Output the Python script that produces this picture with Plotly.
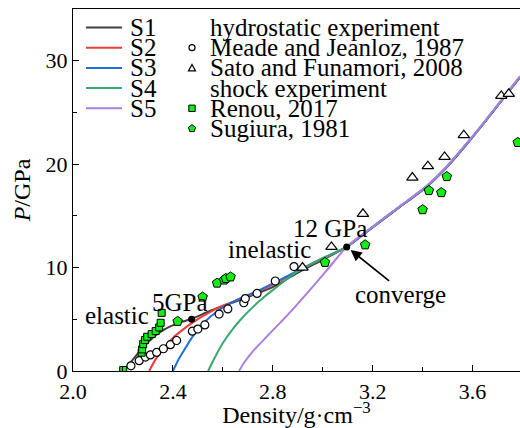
import plotly.graph_objects as go

# ---- equation-of-state curves (density g/cm^3, pressure GPa) ----
s1_rho = [2.205, 2.23, 2.255, 2.281, 2.321, 2.361, 2.418, 2.475, 2.548, 2.615, 2.688, 2.75, 2.815,
          2.908, 3.0, 3.096, 3.2, 3.308, 3.415, 3.5, 3.575, 3.643, 3.79]
s1_p = [0.0, 0.8, 1.55, 2.3, 3.25, 3.95, 4.6, 5.05, 5.8, 6.4, 7.05, 7.6, 8.3,
        9.6, 10.75, 12.0, 13.9, 15.85, 17.8, 19.8, 21.9, 23.9, 28.4]

s2_rho = [2.305, 2.33, 2.36, 2.40, 2.44, 2.48, 2.52, 2.588, 2.655, 2.735, 2.815, 2.908, 3.0, 3.096,
          3.2, 3.308, 3.415, 3.5, 3.575, 3.643, 3.79]
s2_p = [0.0, 1.1, 2.1, 3.2, 4.0, 4.7, 5.3, 6.2, 6.85, 7.6, 8.55, 9.75, 10.85, 12.0,
        13.9, 15.85, 17.8, 19.8, 21.9, 23.9, 28.4]

s3_rho = [2.40, 2.42, 2.441, 2.481, 2.521, 2.588, 2.655, 2.735, 2.815, 2.908, 3.0, 3.096,
          3.2, 3.308, 3.415, 3.5, 3.575, 3.643, 3.79]
s3_p = [0.0, 1.0, 1.86, 3.4, 4.6, 5.95, 6.85, 7.7, 8.65, 9.8, 10.9, 12.0,
        13.9, 15.85, 17.8, 19.8, 21.9, 23.9, 28.4]

s4_rho = [2.541, 2.568, 2.60, 2.641, 2.68, 2.721, 2.77, 2.815, 2.86, 2.908, 3.0, 3.096,
          3.2, 3.308, 3.415, 3.5, 3.575, 3.643, 3.79]
s4_p = [0.0, 1.3, 2.7, 4.1, 5.2, 6.2, 7.25, 8.1, 8.95, 9.75, 10.9, 12.0,
        13.95, 15.9, 17.85, 19.85, 21.95, 23.95, 28.45]

s5_rho = [2.665, 2.685, 2.72, 2.775, 2.855, 2.935, 3.015, 3.096,
          3.2, 3.308, 3.415, 3.5, 3.575, 3.643, 3.79]
s5_p = [0.0, 0.8, 1.9, 3.3, 5.3, 7.45, 9.7, 12.0,
        13.95, 15.9, 17.85, 19.85, 21.95, 23.95, 28.5]

# ---- hydrostatic experiments ----
meade_rho = [2.232, 2.265, 2.29, 2.31, 2.335, 2.362, 2.39, 2.415, 2.478, 2.50, 2.528,
             2.585, 2.62, 2.684, 2.69, 2.737, 2.81, 2.885]
meade_p = [0.5, 1.0, 1.35, 1.55, 1.8, 2.15, 2.55, 2.95, 3.85, 4.05, 4.45,
           5.5, 6.0, 6.6, 7.0, 7.5, 8.7, 10.1]

sato_rho = [2.919, 3.035, 3.161, 3.359, 3.421, 3.488, 3.565, 3.715, 3.745]
sato_p = [10.0, 12.0, 15.2, 18.7, 19.8, 20.7, 22.8, 26.6, 26.8]

# ---- shock experiments ----
renou_rho = [2.201, 2.275, 2.277, 2.281, 2.288, 2.297, 2.315, 2.331, 2.345, 2.351, 2.355]
renou_p = [0.1, 1.77, 2.09, 2.6, 2.99, 3.31, 3.57, 3.86, 4.21, 4.66, 5.62]

sugiura_rho = [2.419, 2.519, 2.577, 2.605, 2.612, 2.631, 3.009, 3.17, 3.40, 3.425, 3.475, 3.497, 3.781]
sugiura_p = [4.8, 7.15, 8.5, 8.8, 8.95, 9.1, 10.5, 12.2, 15.6, 17.45, 17.25, 18.8, 22.1]

# marked transition points: 5 GPa (elastic limit) and 12 GPa (convergence)
key_rho = [2.475, 3.096]
key_p = [5.0, 12.0]

series = [
    ("S1", s1_rho, s1_p, "#3f3f3f"),
    ("S2", s2_rho, s2_p, "#ee3a3a"),
    ("S3", s3_rho, s3_p, "#1f6fdc"),
    ("S4", s4_rho, s4_p, "#3aa86c"),
    ("S5", s5_rho, s5_p, "#a97ee0"),
]

GREEN = "#11ee11"
FONT = "Liberation Serif"

fig = go.Figure()

for name, xs, ys, col in series:
    fig.add_trace(go.Scatter(x=xs, y=ys, mode="lines", name=name,
                             line=dict(color=col, width=2, shape="spline", smoothing=0.6),
                             showlegend=False))

fig.add_trace(go.Scatter(x=meade_rho, y=meade_p, mode="markers", name="Meade and Jeanloz, 1987",
                         marker=dict(symbol="circle", size=8, color="white",
                                     line=dict(color="black", width=1.2)), showlegend=False))
fig.add_trace(go.Scatter(x=sato_rho, y=sato_p, mode="markers", name="Sato and Funamori, 2008",
                         marker=dict(symbol="triangle-up", size=10, color="white",
                                     line=dict(color="black", width=1.2)), showlegend=False))
fig.add_trace(go.Scatter(x=renou_rho, y=renou_p, mode="markers", name="Renou, 2017",
                         marker=dict(symbol="square", size=7, color=GREEN,
                                     line=dict(color="black", width=1)), showlegend=False))
fig.add_trace(go.Scatter(x=sugiura_rho, y=sugiura_p, mode="markers", name="Sugiura, 1981",
                         marker=dict(symbol="pentagon", size=10, color=GREEN,
                                     line=dict(color="black", width=1)), showlegend=False))
fig.add_trace(go.Scatter(x=key_rho, y=key_p, mode="markers", name="key points",
                         marker=dict(symbol="circle", size=7, color="black"), showlegend=False))

# ---- hand-built two-column legend (paper coordinates from pixel positions) ----
L, R, T, B = 73, 520, 9, 371


def fx(px):
    return (px - L) / (R - L)


def fy(py):
    return (B - py) / (B - T)


shapes = []
annotations = []
row0, dy = 27.5, 20.2

for i, (name, _, _, col) in enumerate(series):
    yy = row0 + dy * i
    shapes.append(dict(type="line", xref="paper", yref="paper",
                       x0=fx(86), x1=fx(122), y0=fy(yy), y1=fy(yy),
                       line=dict(color=col, width=2)))
    annotations.append(dict(xref="paper", yref="paper", x=fx(128), y=fy(yy), text=name,
                            showarrow=False, xanchor="left", yanchor="middle",
                            font=dict(family=FONT, size=25, color="black")))

right_rows = [
    ("hydrostatic experiment", None),
    ("Meade and Jeanloz, 1987", "circle"),
    ("Sato and Funamori, 2008", "triangle"),
    ("shock experiment", None),
    ("Renou, 2017", "square"),
    ("Sugiura, 1981", "pentagon"),
]

tri_path = "M-3.5,-3 L3.5,-3 L0,3.5 Z"
pent_path = "M0,3.8 L3.6,1.2 L2.2,-3.1 L-2.2,-3.1 L-3.6,1.2 Z"

for i, (label, sym) in enumerate(right_rows):
    yy = row0 + dy * i
    annotations.append(dict(xref="paper", yref="paper", x=fx(208), y=fy(yy), text=label,
                            showarrow=False, xanchor="left", yanchor="middle",
                            font=dict(family=FONT, size=25, color="black")))
    base = dict(xref="paper", yref="paper", xsizemode="pixel", ysizemode="pixel",
                xanchor=fx(192), yanchor=fy(yy), layer="above")
    if sym == "circle":
        shapes.append(dict(base, type="circle", x0=-3, x1=3, y0=-3, y1=3,
                           fillcolor="white", line=dict(color="black", width=1.2)))
    elif sym == "triangle":
        shapes.append(dict(base, type="path", path=tri_path,
                           fillcolor="white", line=dict(color="black", width=1.2)))
    elif sym == "square":
        shapes.append(dict(base, type="rect", x0=-3.2, x1=3.2, y0=-3.2, y1=3.2,
                           fillcolor=GREEN, line=dict(color="black", width=1)))
    elif sym == "pentagon":
        shapes.append(dict(base, type="path", path=pent_path,
                           fillcolor=GREEN, line=dict(color="black", width=1)))

# ---- in-plot labels ----
txt_font = dict(family=FONT, size=25, color="black")
for label, x, y in [("elastic", 2.176, 5.41), ("5GPa", 2.43, 6.58), ("inelastic", 2.788, 11.70),
                    ("12 GPa", 3.028, 13.82), ("converge", 3.312, 7.35)]:
    annotations.append(dict(x=x, y=y, xref="x", yref="y", text=label, showarrow=False,
                            xanchor="center", yanchor="middle", font=txt_font))

annotations.append(dict(x=key_rho[1], y=key_p[1], xref="x", yref="y", ax=3.272, ay=8.6,
                        axref="x", ayref="y", text="", showarrow=True, arrowhead=2,
                        arrowsize=1.3, arrowwidth=1.7, arrowcolor="black", standoff=5))

axis_common = dict(showline=True, linecolor="black", linewidth=1.3, mirror=True,
                   ticks="inside", ticklen=6, tickwidth=1.2, tickcolor="black",
                   showgrid=False, zeroline=False,
                   tickfont=dict(family=FONT, size=22, color="black"))

fig.update_layout(
    width=520, height=428,
    margin=dict(l=L, r=520 - R, t=T, b=428 - B),
    paper_bgcolor="white", plot_bgcolor="white",
    showlegend=False,
    shapes=shapes, annotations=annotations,
    xaxis=dict(axis_common, range=[2.0, 3.79], tick0=2.0, dtick=0.4, tickformat=".1f",
               minor=dict(dtick=0.2, ticklen=3.5, ticks="inside", tickcolor="black"),
               title=dict(text="Density/g·cm<sup>−3</sup>", standoff=6,
                          font=dict(family=FONT, size=24, color="black"))),
    yaxis=dict(axis_common, range=[0, 35], tick0=0, dtick=10,
               minor=dict(dtick=5, ticklen=3.5, ticks="inside", tickcolor="black"),
               title=dict(text="<i>P</i>/GPa", standoff=8,
                          font=dict(family=FONT, size=24, color="black"))),
)

fig.write_html("out.html")
